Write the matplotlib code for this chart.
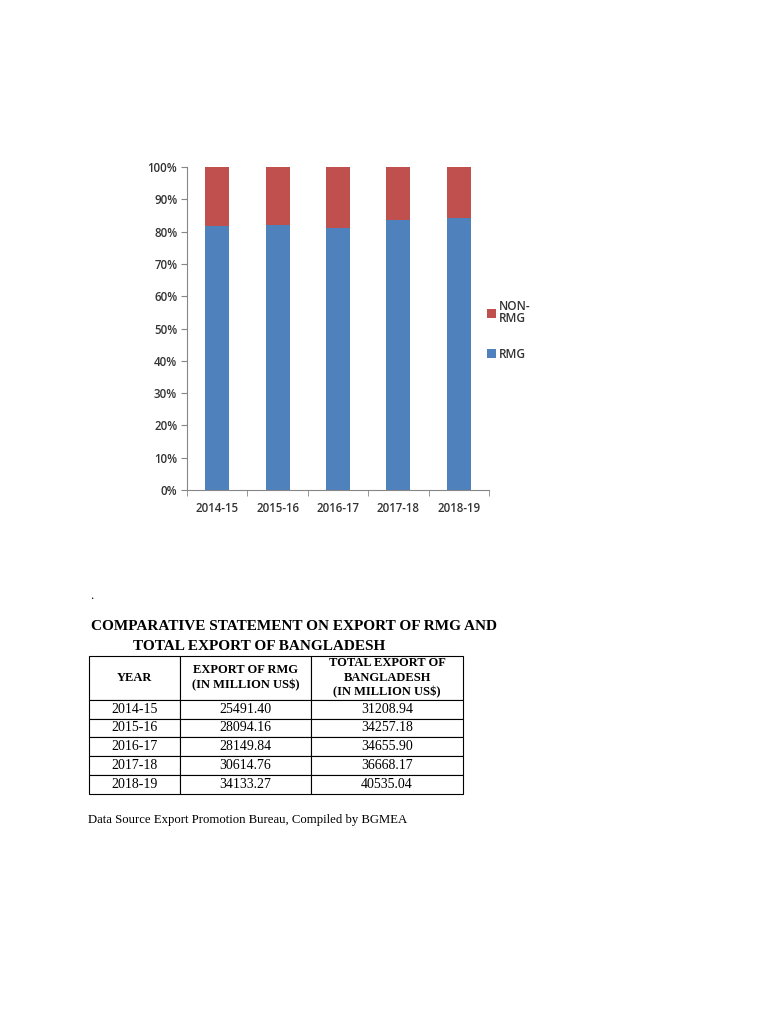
#
# RMG share of Bangladesh exports, stacked 100% bars + table below
#
import matplotlib
matplotlib.use("Agg")
import matplotlib.pyplot as plt
from matplotlib.ticker import PercentFormatter

# data (million US$)
years = ["2014-15", "2015-16", "2016-17", "2017-18", "2018-19"]
rmg_export = [25491.40, 28094.16, 28149.84, 30614.76, 34133.27]
total_export = [31208.94, 34257.18, 34655.90, 36668.17, 40535.04]
rmg_text = ["25491.40", "28094.16", "28149.84", "30614.76", "34133.27"]
total_text = ["31208.94", "34257.18", "34655.90", "36668.17", "40535.04"]
col_labels = ["YEAR", "EXPORT OF RMG\n(IN MILLION US$)",
              "TOTAL EXPORT OF\nBANGLADESH\n(IN MILLION US$)"]

BLUE = "#4F81BD"
RED = "#C0504D"
GREY = "#333333"
SERIF = "Liberation Serif"
SANS = "Open Sans"


def main():
    W, H = 768, 1024
    fig = plt.figure(figsize=(W / 100, H / 100), dpi=100)

    def box(x0, y0, x1, y1):
        # pixel box -> figure fraction
        return [x0 / W, 1 - y1 / H, (x1 - x0) / W, (y1 - y0) / H]

    # --- stacked chart ---
    ax = fig.add_axes(box(187, 167, 489, 490))
    rmg_pct = [r / t for r, t in zip(rmg_export, total_export)]
    non_pct = [1 - p for p in rmg_pct]
    xs = list(range(len(years)))
    b1 = ax.bar(xs, rmg_pct, width=0.4, color=BLUE, label="RMG")
    b2 = ax.bar(xs, non_pct, bottom=rmg_pct, width=0.4, color=RED, label="NON-\nRMG")

    ax.set_xlim(-0.5, len(years) - 0.5)
    ax.set_ylim(0, 1)
    ax.set_yticks([i / 10 for i in range(11)])
    ax.yaxis.set_major_formatter(PercentFormatter(1.0, decimals=0))
    ax.set_xticks(xs)
    ax.set_xticklabels(years)
    ax.set_xticks([i - 0.5 for i in range(len(years) + 1)], minor=True)
    ax.tick_params(axis="x", which="major", length=0, pad=9)
    ax.tick_params(axis="x", which="minor", length=4, color="#868686")
    ax.tick_params(axis="y", length=4, color="#868686", pad=3)
    for lab in ax.get_xticklabels() + ax.get_yticklabels():
        lab.set_fontfamily(SANS)
        lab.set_fontsize(8.3)
        lab.set_fontweight("semibold")
        lab.set_color(GREY)
    for s in ["top", "right"]:
        ax.spines[s].set_visible(False)
    for s in ["left", "bottom"]:
        ax.spines[s].set_color("#868686")
        ax.spines[s].set_linewidth(0.8)

    leg = ax.legend([b2, b1], ["NON-\nRMG", "RMG"], loc="center left",
                    bbox_to_anchor=(0.993, 0.495), frameon=False,
                    prop={"family": SANS, "size": 8.5, "weight": "semibold"},
                    handlelength=0.75, handleheight=0.75, handletextpad=0.3,
                    labelspacing=1.9, borderaxespad=0, borderpad=0)
    for t in leg.get_texts():
        t.set_color(GREY)
        t.set_linespacing(0.95)

    # --- text below ---
    fig.text(90 / W, 1 - 596 / H, ".", fontfamily=SERIF, fontsize=9, va="center")
    fig.text(91 / W, 1 - 627 / H, "COMPARATIVE STATEMENT ON EXPORT OF RMG AND",
             fontfamily=SERIF, fontsize=11, fontweight="bold", va="center")
    fig.text(133 / W, 1 - 646 / H, "TOTAL EXPORT OF BANGLADESH",
             fontfamily=SERIF, fontsize=11, fontweight="bold", va="center")

    # --- table ---
    tax = fig.add_axes(box(89, 656, 463, 794))
    tax.axis("off")
    rows = [[y, r, t] for y, r, t in zip(years, rmg_text, total_text)]
    tbl = tax.table(cellText=rows, colLabels=col_labels, cellLoc="center",
                    colWidths=[91, 131, 152], bbox=[0, 0, 1, 1])
    tbl.auto_set_font_size(False)
    for (r, c), cell in tbl.get_celld().items():
        cell.set_linewidth(0.8)
        cell.set_edgecolor("black")
        cell.set_height(44 if r == 0 else 19)
        txt = cell.get_text()
        txt.set_fontfamily(SERIF)
        if r == 0:
            txt.set_fontsize(9)
            txt.set_fontweight("bold")
            txt.set_linespacing(1.3)
        else:
            txt.set_fontsize(10)

    fig.text(88 / W, 1 - 820 / H, "Data Source Export Promotion Bureau, Compiled by BGMEA",
             fontfamily=SERIF, fontsize=9.2, va="center")

    fig.savefig("out.png", dpi=100)


if __name__ == "__main__":
    main()
